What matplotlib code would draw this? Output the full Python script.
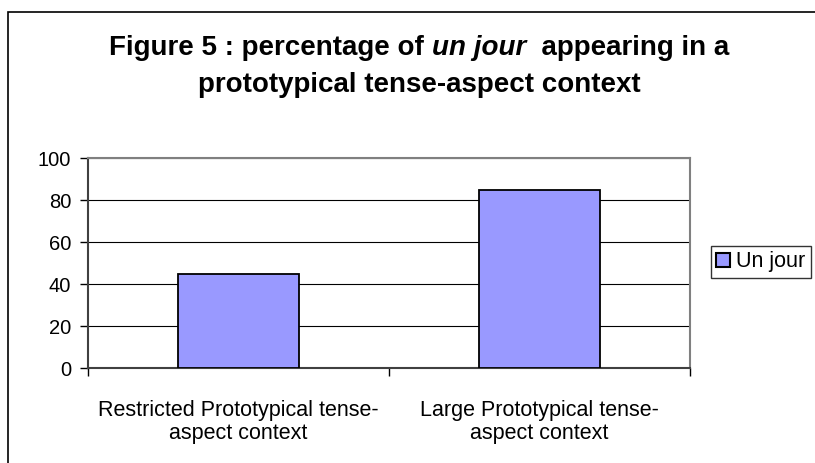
import matplotlib.pyplot as plt
from matplotlib.patches import Rectangle, Patch

plt.rcParams['font.family'] = ['Liberation Sans', 'DejaVu Sans']

categories = ['Restricted Prototypical tense-\naspect context',
              'Large Prototypical tense-\naspect context']
values = [45, 85]
series_name = 'Un jour'
yticks = [0, 20, 40, 60, 80, 100]

W, H = 815, 463
fig = plt.figure(figsize=(W / 100, H / 100), dpi=100)

# outer chart-area frame (right and bottom edges fall outside the image)
fig.patches.append(Rectangle((8 / W, -0.02), 1.0, (H - 12) / H + 0.02,
                             transform=fig.transFigure, fill=False,
                             edgecolor='black', linewidth=1.2))

ax = fig.add_axes([88 / W, (H - 368) / H, 602 / W, 210 / H])
x = list(range(len(categories)))
ax.bar(x, values, width=0.4, color='#9999FF', edgecolor='black', linewidth=1.3,
       zorder=3, label=series_name)
ax.set_xlim(-0.5, len(categories) - 0.5)
ax.set_ylim(0, 100)
ax.set_yticks(yticks)
ax.tick_params(axis='y', labelsize=14.5, length=6, width=1, direction='out', pad=6)
ax.set_xticks(x)
ax.set_xticklabels(categories, fontsize=15.5, linespacing=1.15)
ax.tick_params(axis='x', length=0, pad=23)
ax.set_xticks([i - 0.5 for i in range(len(categories) + 1)], minor=True)
ax.tick_params(axis='x', which='minor', length=6, width=1, direction='out')
ax.yaxis.grid(True, color='black', linewidth=0.8, zorder=0)
ax.set_axisbelow(True)
for side in ['top', 'right']:
    ax.spines[side].set_color('#808080')
    ax.spines[side].set_linewidth(1.5)
for side in ['left', 'bottom']:
    ax.spines[side].set_color('#404040')
    ax.spines[side].set_linewidth(1.5)

leg = fig.legend(handles=[Patch(facecolor='#9999FF', edgecolor='black', linewidth=1.5,
                                label=series_name)],
                 loc='upper left', bbox_to_anchor=(711 / W, 1 - 246 / H),
                 fontsize=15.5, frameon=True, fancybox=False, borderpad=0.25,
                 handlelength=0.62, handleheight=0.62, handletextpad=0.3,
                 borderaxespad=0)
leg.get_frame().set_edgecolor('black')
leg.get_frame().set_linewidth(1.0)

# title with italic part, laid out piece by piece
cx = 419 / W
line1 = [('Figure 5 : percentage of ', 'normal'), ('un jour', 'italic'),
         ('  appearing in a', 'normal')]
fig.canvas.draw()
renderer = fig.canvas.get_renderer()
texts = []
for s, style in line1:
    t = fig.text(0, 1 - 48 / H, s, fontsize=20, fontweight='bold', style=style,
                 ha='left', va='center')
    texts.append(t)
widths = [t.get_window_extent(renderer).width / W for t in texts]
xpos = cx - sum(widths) / 2
for t, w in zip(texts, widths):
    t.set_x(xpos)
    xpos += w
fig.text(cx, 1 - 85 / H, 'prototypical tense-aspect context', fontsize=20,
         fontweight='bold', ha='center', va='center')

fig.savefig('out.png', dpi=100)
